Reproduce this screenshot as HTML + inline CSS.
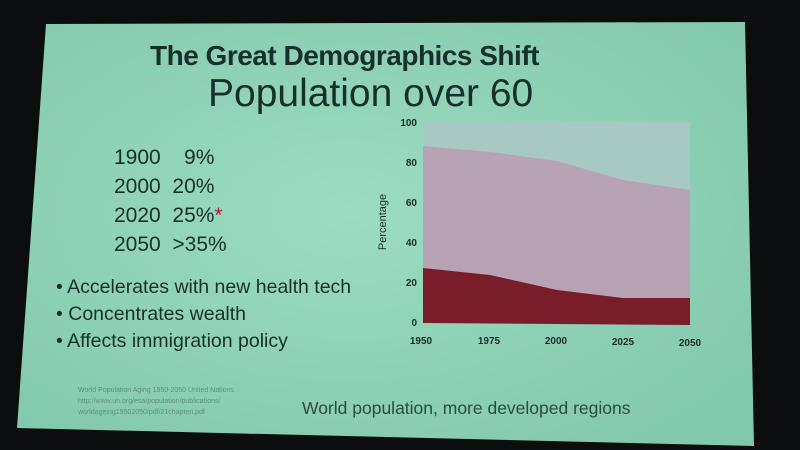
<!DOCTYPE html>
<html><head><meta charset="utf-8"><style>
body{margin:0;width:800px;height:450px;background:#0b0d0e;overflow:hidden;position:relative;font-family:"Liberation Sans","DejaVu Sans",sans-serif}
.t{position:absolute;color:#17302c;white-space:nowrap}
</style></head><body>
<svg width="800" height="450" style="position:absolute;left:0;top:0">
<defs><radialGradient id="g" cx="0.45" cy="0.45" r="0.7"><stop offset="0" stop-color="#9cdcc2"/><stop offset="1" stop-color="#82c8ac"/></radialGradient></defs>
<polygon points="46,24 745,22 754,446 17,428" fill="url(#g)"/>
<g>
<rect x="423" y="122" width="267" height="201" fill="#a7c9c3"/>
<polygon points="423,146 490,152 557,161 623,180 690,190 690,323 423,323" fill="#b7a3b4"/>
<polygon points="423,268 490,275 557,290 623,298 690,298 690,325 423,323" fill="#7a1d2a"/>
<g font-size="10" font-weight="bold" fill="#1c2a28" text-anchor="end">
<text x="417" y="126">100</text><text x="417" y="166">80</text><text x="417" y="206">60</text><text x="417" y="246">40</text><text x="417" y="286">20</text><text x="417" y="326">0</text>
</g>
<g font-size="10" font-weight="bold" fill="#1c2a28" text-anchor="middle">
<text x="421" y="344">1950</text><text x="489" y="344">1975</text><text x="556" y="344">2000</text><text x="623" y="345">2025</text><text x="690" y="346">2050</text>
</g>
<text transform="translate(386,222) rotate(-90)" font-size="11" fill="#1c2a28" text-anchor="middle">Percentage</text>
</g>
</svg>
<div class="t" style="left:150px;top:40px;font-size:28px;font-weight:bold;letter-spacing:-0.5px">The Great Demographics Shift</div>
<div class="t" style="left:208px;top:72px;font-size:39px;letter-spacing:0px">Population over 60</div>
<div class="t" style="left:114px;top:143px;font-size:21px;line-height:29px">1900&nbsp;&nbsp;&nbsp;&nbsp;9%<br>2000&nbsp;&nbsp;20%<br>2020&nbsp;&nbsp;25%<span style="color:#b02030">*</span><br>2050&nbsp;&nbsp;&gt;35%</div>
<div class="t" style="left:56px;top:274px;font-size:19.5px;line-height:27px">• Accelerates with new health tech<br>• Concentrates wealth<br>• Affects immigration policy</div>
<div class="t" style="left:78px;top:385px;font-size:7px;line-height:11px;color:#5f8f80">World Population Aging 1950-2050 United Nations<br>http://www.un.org/esa/population/publications/<br>worldageing19502050/pdf/21chapteri.pdf</div>
<div class="t" style="left:302px;top:398px;font-size:17.5px;color:#2c4a44">World population, more developed regions</div>
</body></html>
